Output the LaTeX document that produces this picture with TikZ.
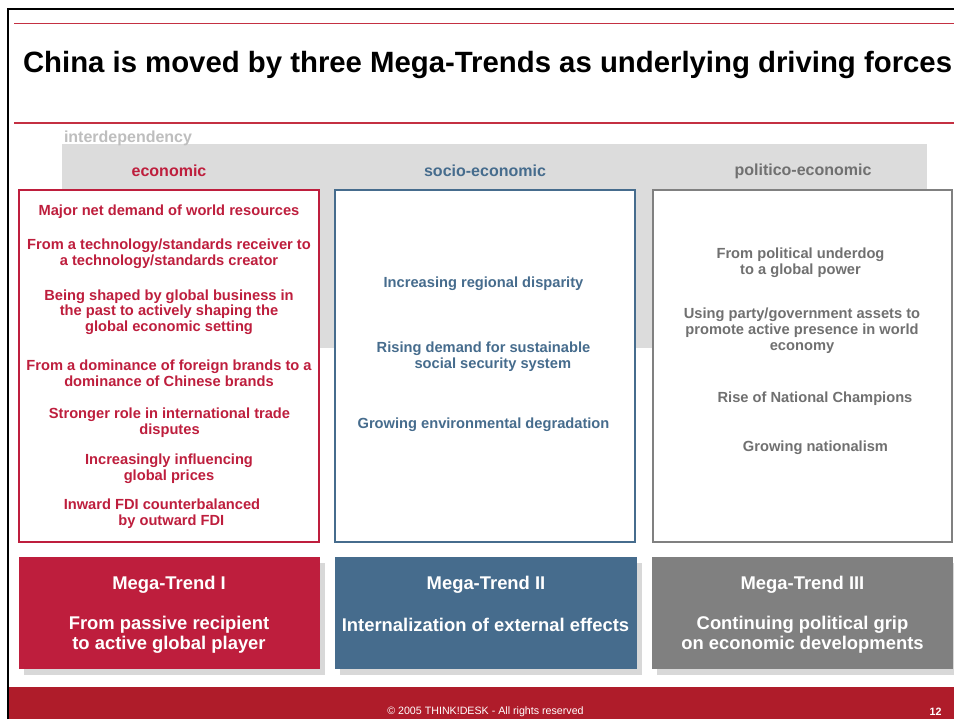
\documentclass[tikz,border=0pt]{standalone}
\usepackage{fontspec}
\setmainfont{Liberation Sans}
\definecolor{trendred}{RGB}{190,30,61}
\definecolor{footred}{RGB}{175,28,42}
\definecolor{rulered}{RGB}{196,48,66}
\definecolor{trendblue}{RGB}{70,108,141}
\definecolor{trendgray}{RGB}{128,128,128}
\definecolor{textgray}{RGB}{112,112,112}
\definecolor{bandgray}{RGB}{220,220,220}
\definecolor{lightlabel}{RGB}{190,190,190}
\definecolor{shadowgray}{RGB}{216,216,216}
\begin{document}
\begin{tikzpicture}[x=0.75pt,y=-0.75pt,
  every node/.style={inner sep=0pt, outer sep=0pt},
  item/.style={font=\bfseries\fontsize{11}{11.8}\selectfont, align=center, yshift=-1.5pt},
  heading/.style={font=\bfseries\fontsize{12}{14}\selectfont, yshift=-0.75pt},
  trendtitle/.style={font=\bfseries\fontsize{13.8}{15}\selectfont, text=white, yshift=-1.5pt},
  trendtext/.style={font=\bfseries\fontsize{13.8}{15}\selectfont, text=white, align=center, yshift=-1.5pt},
  frame/.style={fill=white, line width=1.5pt},
  shadowbox/.style={fill=shadowgray}]
\useasboundingbox (0,0) rectangle (954,719);
\fill[white] (0,0) rectangle (954,719);

% slide frame and title rules
\draw[line width=1.5pt] (7.5,719) -- (7.5,8.5) -- (954,8.5);
\fill[rulered] (14,22.6) rectangle (954,24.4);
\fill[rulered] (14,122.1) rectangle (954,123.9);
\node[anchor=base west, font=\bfseries\fontsize{22}{26}\selectfont] (title) at (23,72)
  {China is moved by three Mega-Trends as underlying driving forces};

% footer band
\fill[footred] (9,687) rectangle (954,719);
\node[font=\fontsize{8}{9}\selectfont, text=white] (copy) at (485.5,712)
  {\textcopyright{} 2005 THINK!DESK - All rights reserved};
\node[font=\bfseries\fontsize{8}{9}\selectfont, text=white] (page) at (935.5,712) {12};

% interdependency band
\fill[bandgray] (62,144) rectangle (927,348);
\node[anchor=base west, heading, text=lightlabel] (inter) at (64,141) {interdependency};
\node[heading, text=trendred] (hEco) at (169,170) {economic};
\node[heading, text=trendblue] (hSoc) at (485,170) {socio-economic};
\node[heading, text=textgray] (hPol) at (803,170) {politico-economic};

% column frames
\draw[frame, draw=trendred] (19,190) rectangle (319,542);
\draw[frame, draw=trendblue] (335,190) rectangle (635,542);
\draw[frame, draw=trendgray] (653,190) rectangle (952,542);

% economic column
\begin{scope}[every node/.append style={item, text=trendred}]
\node (e1) at (169,210) {Major net demand of world resources};
\node (e2) at (169,252) {From a technology/standards receiver to\\a technology/standards creator};
\node (e3) at (169,310) {Being shaped by global business in\\the past to actively shaping the\\global economic setting};
\node (e4) at (169,371) {From a dominance of foreign brands to a\\dominance of Chinese brands};
\node (e5) at (169.5,421) {Stronger role in international trade\\disputes};
\node (e6) at (169,467) {Increasingly influencing\\global prices};
\node (e7) at (162,512) {Inward FDI counterbalanced\\\hspace*{14pt}by outward FDI};
\end{scope}

% socio-economic column
\begin{scope}[every node/.append style={item, text=trendblue}]
\node (s1) at (483.5,282) {Increasing regional disparity};
\node (s2) at (483.5,354.5) {Rising demand for sustainable\\\hspace*{14pt}social security system};
\node (s3) at (483.5,423) {Growing environmental degradation};
\end{scope}

% politico-economic column
\begin{scope}[every node/.append style={item, text=textgray}]
\node (p1) at (800.5,261) {From political underdog\\to a global power};
\node (p2) at (802,328.5) {Using party/government assets to\\promote active presence in world\\economy};
\node (p3) at (815,396.5) {Rise of National Champions};
\node (p4) at (815.5,445.5) {Growing nationalism};
\end{scope}

% mega-trend boxes with drop shadows
\fill[shadowbox] (24,563) rectangle (325,675);
\fill[shadowbox] (340,563) rectangle (642,675);
\fill[shadowbox] (657,563) rectangle (954,675);
\fill[trendred] (19,557) rectangle (320,669);
\fill[trendblue] (335,557) rectangle (637,669);
\fill[trendgray] (652,557) rectangle (953,669);

\node[trendtitle] (t1) at (169,583) {Mega-Trend I};
\node[trendtext] (d1) at (169,633) {From passive recipient\\to active global player};
\node[trendtitle] (t2) at (486,583) {Mega-Trend II};
\node[trendtext] (d2) at (485.5,623) {Internalization of external effects};
\node[trendtitle] (t3) at (802.5,583) {Mega-Trend III};
\node[trendtext] (d3) at (802.5,633) {Continuing political grip\\on economic developments};
\end{tikzpicture}
\end{document}
